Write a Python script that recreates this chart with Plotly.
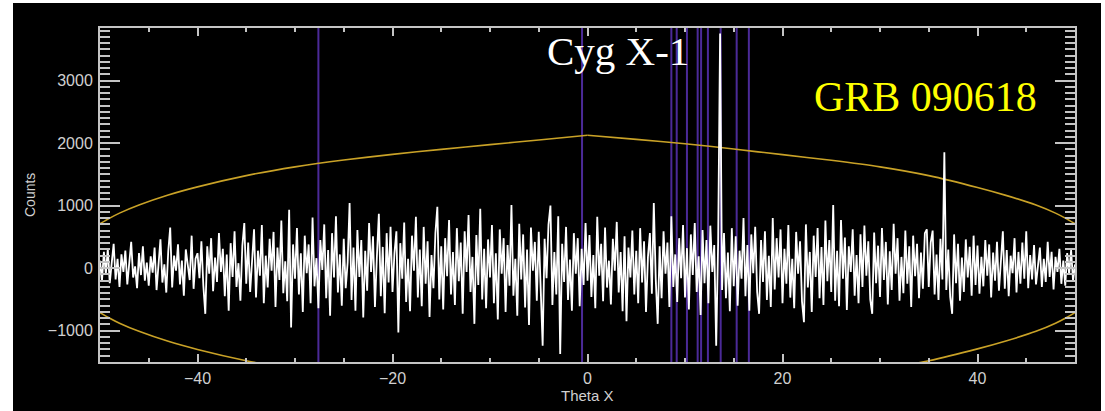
import numpy as np
import plotly.graph_objects as go

# ---------------- data ----------------
# counts along Theta X, one value every 0.2 deg from -50 to +50 (501 values)
counts = [
    120, -210, 260, -90, 310, -240, 80, 390, -180, 150, -300, 220, -60, 280, -260, 110, 420, -150, 30, -320, 240, -110, 350, -200, 90,
    -280, 190, -70, 330, -350, 140, 460, -230, 60, -390, 270, 650, -310, 200, -40, 380, -260, 120, -440, 300, 10, -190, 520, -330, 150,
    240, -160, 430, -280, -730, 350, -90, 480, -370, 170, -220, 560, -60, 310, -450, 220, -680, 400, -140, 590, -300, 80, -520, 360, 720,
    -250, 410, -380, 150, 620, -470, 280, -120, 690, -560, 200, -310, 470, -40, 580, -620, 330, -190, 760, -400, 110, -530, 935, -950, 380,
    -170, 640, -420, 240, -700, 520, -80, 380, -560, 810, -290, 160, -640, 450, -30, 700, -480, 290, -760, 560, -150, 830, -390, 220, -600,
    470, -320, 90, 1040, -510, 330, -680, 610, -140, 450, -790, 280, -360, 720, -60, 510, -620, 190, 870, -450, 340, -720, 560, -230, 660,
    -380, 240, 590, -1030, 400, -170, 730, -540, 150, -690, 520, -40, 820, -470, 300, -610, 660, -250, 430, -780, 210, -320, 560, 980, -500,
    350, -660, 480, -130, 770, -420, 260, -590, 640, -210, 410, -730, 590, -60, 850, -380, 180, -890, 530, -270, 950, -500, 310, -640, 460,
    -150, 690, -560, 240, -820, 620, -90, 480, -700, 370, -280, 1010, -440, 150, -760, 710, -180, 540, -630, 300, -910, 650, -40, 420, -520,
    580, -330, -1240, 470, -160, 700, 1000, -590, 260, -420, 830, -1370, 390, -220, 660, -510, 140, -680, 560, -90, 480, -610, 310, -270, 720,
    -200, 530, -460, 210, -640, 820, -120, 390, -530, 650, -310, 120, -580, 470, -40, 740, -390, 260, -690, 510, -850, 330, -150, 600, -420,
    280, -560, 640, -230, 430, -700, 180, 560, -410, 1040, -180, -890, 350, -480, 590, -90, 410, -620, 830, -300, 220, -540, 480, -160, 690,
    -470, 320, -660, 540, -110, 720, -380, 190, -750, 610, -240, 450, -560, 680, -60, 370, -1240, 420, 3750, -350, 560, -480, 250, -690, 640,
    -290, 510, -600, 280, -170, 800, -450, 370, -680, 540, -80, 660, -380, -730, 450, -220, 590, -510, 200, -620, 800, -340, 480, -150, 620,
    -560, 310, -250, 690, -470, 150, -640, 580, -90, 430, -530, -865, 700, -310, 260, -700, 520, -140, 640, -480, 340, -590, 760, -210, 450,
    -380, 1010, -520, 280, -610, 770, -170, 490, -670, 350, -60, 620, -440, 210, -560, 540, -300, 680, -120, 430, -500, -730, 570, -240, 360,
    -460, 640, -190, 420, -580, 270, -350, 710, -90, 480, -520, 180, -400, 600, -250, 350, -620, 520, -130, 390, -480, 250, -330, 560, 620,
    -300, 410, 600, -420, 220, -510, 470, -180, 1855, -350, 300, -460, -730, 540, -240, 390, -520, 170, -380, 460, -150, 340, -440, 520, -270,
    360, -410, 180, -290, 450, -120, 380, -470, 250, -200, 420, -360, 110, 590, -330, 290, -450, 200, -80, 480, -390, 260, -250, 410, -170,
    590, -320, 210, -180, 370, -260, 90, 330, -300, 150, -220, 420, -140, 260, -340, 180, -60, 310, -250, 120, -280, 240, -100, 290, -200,
    60,
]
theta = np.linspace(-50, 50, len(counts))

# sensitivity envelope (upper half; lower half is its mirror), split at the cusp at 0
env_theta_left = [-50, -49, -48, -46, -43, -40, -35, -30, -25, -20, -15, -10, -5, 0]
env_counts_left = [710, 800, 880, 1010, 1170, 1300, 1480, 1620, 1730, 1820, 1900, 1975, 2050, 2125]
env_theta_right = [0, 5, 10, 15, 20, 25, 30, 35, 40, 43, 46, 48, 49, 50]
env_counts_right = [2125, 2060, 1990, 1905, 1815, 1725, 1620, 1480, 1290, 1160, 1010, 880, 800, 710]

# catalogue source positions (purple markers)
source_theta = [-27.6, -0.56, 8.6, 9.15, 10.2, 11.3, 11.65, 12.35, 13.66, 15.3, 16.55]

labels = ["Cyg X-1", "GRB 090618"]
label_theta = [3.1, 34.7]
label_counts = [3470, 2730]

x_range = [-50, 50]
y_range = [-1500, 3840]

# ---------------- figure ----------------
W, H = 1105, 411
ML, MR, MT, MB = 100, 30, 28, 49
PW, PH = W - ML - MR, H - MT - MB

fig = go.Figure()

env_col = "#c9a227"
for ex, ey in ((env_theta_left, env_counts_left), (env_theta_right, env_counts_right)):
    ey = np.array(ey)
    for sign in (1, -1):
        fig.add_trace(go.Scatter(x=ex, y=sign * ey, mode="lines",
                                 line=dict(color=env_col, width=1.6, shape="spline", smoothing=0.6),
                                 hoverinfo="skip"))

fig.add_trace(go.Scatter(x=theta, y=counts, mode="lines",
                         line=dict(color="white", width=1.8)))

shapes = [
    # black picture area with thin white border strips (left/top/right)
    dict(type="rect", xref="paper", yref="paper",
         x0=(13 - ML) / PW, x1=(1101 - ML) / PW,
         y0=-(MB + 5) / PH, y1=(MT - 3) / PH + 1,
         fillcolor="black", line=dict(width=0), layer="below"),
]
for t in source_theta:
    shapes.append(dict(type="line", xref="x", yref="paper", x0=t, x1=t, y0=0, y1=1,
                       line=dict(color="#4b2a98", width=2), layer="below"))

axis_col = "#c4c4c4"
tick_font = dict(family="Liberation Sans, Arial, sans-serif", size=16, color="#d0d0d0")

fig.update_layout(
    width=W, height=H,
    margin=dict(l=ML, r=MR, t=MT, b=MB),
    paper_bgcolor="white", plot_bgcolor="black",
    showlegend=False,
    shapes=shapes,
    xaxis=dict(range=x_range, showgrid=False, zeroline=False,
               showline=True, linecolor=axis_col, linewidth=2, mirror="allticks",
               ticks="inside", tickcolor=axis_col, ticklen=8, tickwidth=1.5,
               tickmode="linear", tick0=-40, dtick=20,
               tickfont=tick_font, ticklabelstandoff=1,
               minor=dict(dtick=5, tick0=-50, ticks="inside", ticklen=4,
                          tickcolor=axis_col, tickwidth=1.5)),
    yaxis=dict(range=y_range, showgrid=False, zeroline=False,
               showline=True, linecolor=axis_col, linewidth=2, mirror="allticks",
               ticks="inside", tickcolor=axis_col, ticklen=20, tickwidth=1.5,
               tickmode="linear", tick0=0, dtick=1000,
               tickfont=tick_font, ticklabelstandoff=2,
               minor=dict(dtick=100, ticks="inside", ticklen=10,
                          tickcolor=axis_col, tickwidth=1.5)),
    annotations=[
        dict(text="Counts", xref="paper", yref="paper", x=(30 - ML) / PW, y=0.5,
             textangle=-90, showarrow=False, xanchor="center", yanchor="middle",
             font=dict(family="Liberation Sans, Arial, sans-serif", size=14, color="#d0d0d0")),
        dict(text="Theta X", xref="paper", yref="paper", x=0.5, y=(MT + PH - 395) / PH,
             showarrow=False, xanchor="center", yanchor="middle",
             font=dict(family="Liberation Sans, Arial, sans-serif", size=15, color="#d0d0d0")),
        dict(text=labels[0], x=label_theta[0], y=label_counts[0], xref="x", yref="y",
             showarrow=False, xanchor="center", yanchor="middle",
             font=dict(family="Liberation Serif, Times New Roman, serif", size=41, color="white")),
        dict(text=labels[1], x=label_theta[1], y=label_counts[1], xref="x", yref="y",
             showarrow=False, xanchor="center", yanchor="middle",
             font=dict(family="Liberation Serif, Times New Roman, serif", size=42, color="#ffff00")),
    ],
)

fig.write_html("out.html")
